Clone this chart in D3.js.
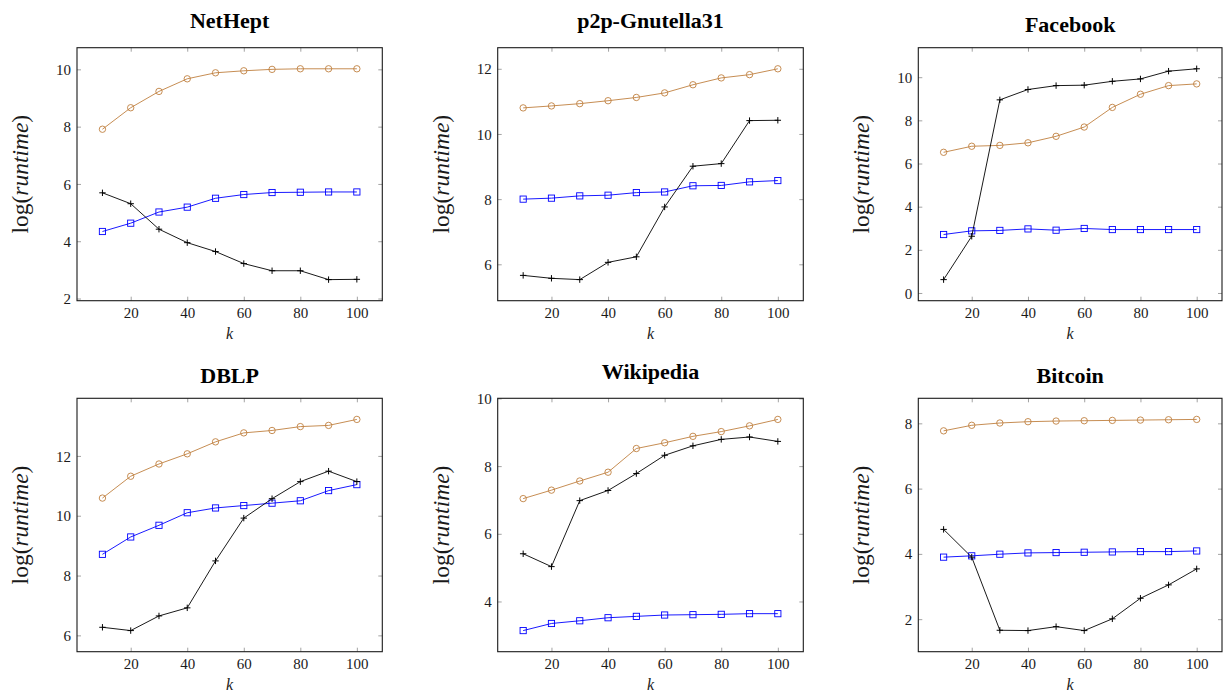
<!DOCTYPE html>
<html>
<head>
<meta charset="utf-8">
<script src="https://cdn.jsdelivr.net/npm/d3@7"></script>
<style>
  html, body { margin: 0; padding: 0; background: #fff; }
  svg { display: block; }
  svg text { font-family: "Liberation Serif", "Times New Roman", serif; }
</style>
</head>
<body>
<svg id="chart" width="1226" height="694"></svg>
<script>
// Budget values k on the x axis
const kValues = [10, 20, 30, 40, 50, 60, 70, 80, 90, 100];
const xTicks = [20, 40, 60, 80, 100];

// Dataset names, one panel each
const datasets = ["NetHept", "p2p-Gnutella31", "Facebook", "DBLP", "Wikipedia", "Bitcoin"];

// log(runtime) per dataset for the three methods
const circleSeries = [
  [7.91, 8.66, 9.23, 9.67, 9.88, 9.95, 10.0, 10.02, 10.02, 10.02],
  [10.80, 10.86, 10.93, 11.02, 11.12, 11.26, 11.51, 11.72, 11.82, 12.0],
  [6.52, 6.80, 6.84, 6.96, 7.26, 7.69, 8.60, 9.21, 9.61, 9.69],
  [10.59, 11.32, 11.73, 12.07, 12.47, 12.77, 12.85, 12.98, 13.02, 13.22],
  [7.04, 7.29, 7.56, 7.82, 8.52, 8.69, 8.88, 9.02, 9.19, 9.38],
  [7.77, 7.94, 8.01, 8.05, 8.07, 8.08, 8.09, 8.10, 8.11, 8.12]
];
const squareSeries = [
  [4.34, 4.63, 5.02, 5.19, 5.50, 5.63, 5.70, 5.71, 5.72, 5.72],
  [8.00, 8.03, 8.10, 8.12, 8.20, 8.22, 8.41, 8.42, 8.53, 8.57],
  [2.71, 2.88, 2.90, 2.97, 2.91, 2.99, 2.94, 2.94, 2.94, 2.94],
  [8.71, 9.29, 9.68, 10.10, 10.26, 10.34, 10.42, 10.50, 10.84, 11.04],
  [3.14, 3.35, 3.43, 3.52, 3.56, 3.60, 3.61, 3.62, 3.64, 3.64],
  [3.90, 3.94, 3.99, 4.03, 4.04, 4.05, 4.06, 4.07, 4.07, 4.09]
];
const plusSeries = [
  [5.69, 5.31, 4.42, 3.95, 3.64, 3.22, 2.97, 2.97, 2.66, 2.67],
  [5.66, 5.57, 5.53, 6.06, 6.23, 7.76, 9.01, 9.09, 10.41, 10.42],
  [0.62, 2.63, 8.95, 9.43, 9.61, 9.63, 9.81, 9.92, 10.28, 10.39],
  [6.27, 6.16, 6.65, 6.92, 8.49, 9.92, 10.57, 11.14, 11.49, 11.14],
  [5.41, 5.03, 6.98, 7.28, 7.78, 8.32, 8.60, 8.79, 8.86, 8.73],
  [4.75, 3.90, 1.66, 1.65, 1.77, 1.65, 2.01, 2.64, 3.05, 3.54]
];

// y tick values per panel
const yTicks = [
  [2, 4, 6, 8, 10],
  [6, 8, 10, 12],
  [0, 2, 4, 6, 8, 10],
  [6, 8, 10, 12],
  [4, 6, 8, 10],
  [2, 4, 6, 8]
];

const svg = d3.select("#chart");

// panel frames (pixels)
const colX = [[77, 382.3], [497.7, 803.3], [918.3, 1222]];
const rowY = [[47.7, 300.7], [398.3, 651.7]];

const serif = "'Liberation Serif', 'Times New Roman', serif";
const BROWN = "#bf8040";
const BLUE = "#0000ff";
const BLACK = "#000000";

function padded(ext, f) {
  const r = ext[1] - ext[0];
  return [ext[0] - r * f, ext[1] + r * f];
}

datasets.forEach((name, i) => {
  const col = i % 3, row = Math.floor(i / 3);
  const [x0, x1] = colX[col];
  const [y0, y1] = rowY[row];

  const x = d3.scaleLinear().domain(padded(d3.extent(kValues), 0.1)).range([x0, x1]);
  const all = circleSeries[i].concat(squareSeries[i], plusSeries[i]);
  const y = d3.scaleLinear().domain(padded(d3.extent(all), 0.1)).range([y1, y0]);

  const g = svg.append("g");

  // ticks on all four sides, pointing inward
  const tickLen = 4;
  const tickColor = "#8c8c8c";
  const axB = d3.axisBottom(x).tickValues(xTicks).tickSizeInner(-tickLen).tickSizeOuter(0).tickFormat(d3.format("d"));
  const axT = d3.axisTop(x).tickValues(xTicks).tickSizeInner(-tickLen).tickSizeOuter(0).tickFormat("");
  const axL = d3.axisLeft(y).tickValues(yTicks[i]).tickSizeInner(-tickLen).tickSizeOuter(0).tickFormat(d3.format("d"));
  const axR = d3.axisRight(y).tickValues(yTicks[i]).tickSizeInner(-tickLen).tickSizeOuter(0).tickFormat("");

  const styleAxis = (sel) => {
    sel.attr("font-family", null).attr("font-size", null);
    sel.select(".domain").remove();
    sel.selectAll(".tick line").attr("stroke", tickColor).attr("stroke-width", 0.8);
    sel.selectAll(".tick text")
      .attr("fill", "#1a1a1a")
      .style("font-family", serif)
      .style("font-size", "15px");
  };

  const gB = g.append("g").attr("transform", `translate(0,${y1})`).call(axB).call(styleAxis);
  gB.selectAll(".tick text").attr("y", 17).attr("dy", 0);
  g.append("g").attr("transform", `translate(0,${y0})`).call(axT).call(styleAxis);
  const gL = g.append("g").attr("transform", `translate(${x0},0)`).call(axL).call(styleAxis);
  gL.selectAll(".tick text").attr("x", -6).attr("dy", "0.34em");
  g.append("g").attr("transform", `translate(${x1},0)`).call(axR).call(styleAxis);

  // frame
  g.append("rect")
    .attr("x", x0).attr("y", y0)
    .attr("width", x1 - x0).attr("height", y1 - y0)
    .attr("fill", "none").attr("stroke", "#1a1a1a").attr("stroke-width", 1.1);

  const line = d3.line().x((d, j) => x(kValues[j])).y(d => y(d));

  const series = [
    { vals: circleSeries[i], color: BROWN, mark: "circle" },
    { vals: squareSeries[i], color: BLUE, mark: "square" },
    { vals: plusSeries[i], color: BLACK, mark: "plus" }
  ];

  series.forEach(s => {
    g.append("path").datum(s.vals)
      .attr("d", line)
      .attr("fill", "none")
      .attr("stroke", s.color)
      .attr("stroke-width", 0.9)
      .attr("stroke-linejoin", "round");

    const m = g.append("g");
    s.vals.forEach((v, j) => {
      const cx = x(kValues[j]), cy = y(v);
      if (s.mark === "circle") {
        m.append("circle").attr("cx", cx).attr("cy", cy).attr("r", 3.2)
          .attr("fill", "none").attr("stroke", s.color).attr("stroke-width", 0.9);
      } else if (s.mark === "square") {
        m.append("rect").attr("x", cx - 3.1).attr("y", cy - 3.1).attr("width", 6.2).attr("height", 6.2)
          .attr("fill", "none").attr("stroke", s.color).attr("stroke-width", 0.9);
      } else {
        m.append("path").attr("d", `M${cx - 3.2},${cy}H${cx + 3.2}M${cx},${cy - 3.2}V${cy + 3.2}`)
          .attr("stroke", s.color).attr("stroke-width", 1);
      }
    });
  });

  // title
  const hasDesc = /[gjpqy]/.test(name);
  g.append("text")
    .attr("x", (x0 + x1) / 2)
    .attr("y", y0 - (hasDesc ? 19.5 : 15.5))
    .attr("text-anchor", "middle")
    .style("font-family", serif)
    .style("font-weight", "bold")
    .style("font-size", "22px")
    .text(name);

  // x label
  g.append("text")
    .attr("x", (x0 + x1) / 2)
    .attr("y", y1 + 38)
    .attr("text-anchor", "middle")
    .style("font-family", serif)
    .style("font-style", "italic")
    .style("font-size", "16px")
    .attr("fill", "#1a1a1a")
    .text("k");

  // y label
  const yl = g.append("text")
    .attr("transform", `translate(${x0 - 49},${(y0 + y1) / 2}) rotate(-90)`)
    .attr("text-anchor", "middle")
    .style("font-family", serif)
    .style("font-size", "23.5px")
    .attr("fill", "#1a1a1a");
  yl.append("tspan").text("log(");
  yl.append("tspan").style("font-style", "italic").text("runtime");
  yl.append("tspan").text(")");
});
</script>
</body>
</html>
